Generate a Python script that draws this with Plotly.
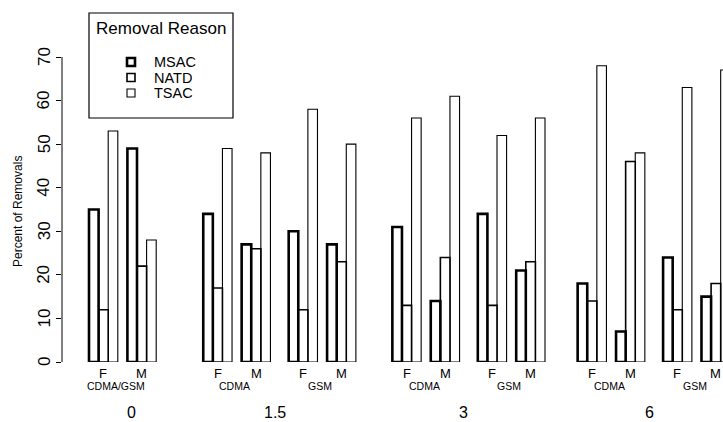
import plotly.graph_objects as go

# ---------------- data ----------------
doses = ["0", "1.5", "3", "6"]
networks = [["CDMA/GSM"], ["CDMA", "GSM"], ["CDMA", "GSM"], ["CDMA", "GSM"]]
sexes = ["F", "M"]
reasons = ["MSAC", "NATD", "TSAC"]

# order: dose -> network -> sex
msac = [35, 49, 34, 27, 30, 27, 31, 14, 34, 21, 18, 7, 24, 15]
natd = [12, 22, 17, 26, 12, 23, 13, 24, 13, 23, 14, 46, 12, 18]
tsac = [53, 28, 49, 48, 58, 50, 56, 61, 52, 56, 68, 48, 63, 67]
yticks = [0, 10, 20, 30, 40, 50, 60, 70]

# ---------------- layout constants ----------------
W, H = 723, 422
ML, MB, MT = 62, 60, 0
PW, PH = W - ML, H - MB - MT
UNIT_PX = 9.6             # pixels per bar width
PAIR_STEP = 4.0           # F -> M centre step
NET_STEP = 4.9            # M -> next network F step
DOSE_STEPS = [7.9, 6.8, 6.4]  # last M -> next dose F step
X0_PX = 89                # left edge of first bar (px)
Y_PX_PER = (362 - 57) / 70.0

def px2x(px):
    return (px - ML) / PW

def py2y(py):
    return (H - MB - py) / PH

# build triplet centres from the structure
centres, sex_lab, net_centres, dose_centres = [], [], [], []
pos = 1.5
for di, d in enumerate(doses):
    dstart = None
    for ni, n in enumerate(networks[di]):
        if ni > 0:
            pos += NET_STEP
        fpos = pos
        for si, s in enumerate(sexes):
            if si > 0:
                pos += PAIR_STEP
            centres.append(pos)
            sex_lab.append(s)
        net_centres.append(((fpos + pos) / 2, n))
        if dstart is None:
            dstart = fpos
    dose_centres.append(((dstart + pos) / 2, d))
    if di < len(DOSE_STEPS):
        pos += DOSE_STEPS[di]

xmin = (ML - X0_PX) / UNIT_PX
xmax = xmin + PW / UNIT_PX
ymax = (H - MB - MT) / Y_PX_PER

FONT = "Liberation Sans, Arial, Helvetica, sans-serif"

fig = go.Figure()
series = [msac, natd, tsac]
lw = [2.6, 1.6, 1.1]
offs = [-1, 0, 1]
for k in [2, 1, 0]:
    fig.add_trace(go.Bar(
        x=[c + offs[k] for c in centres], y=series[k], width=1.0,
        name=reasons[k], marker=dict(color="white", line=dict(color="black", width=lw[k])),
        showlegend=False, hovertemplate="%{y}<extra>" + reasons[k] + "</extra>"))

ann = []
for c, s in zip(centres, sex_lab):
    ann.append(dict(x=min(c, xmax - 0.8), y=py2y(374), xref="x", yref="paper", text=s,
                    showarrow=False, font=dict(size=13, family=FONT, color="black"),
                    yanchor="middle"))
for i, (c, n) in enumerate(net_centres):
    shift = -0.7 if i == 0 else -0.2
    ann.append(dict(x=c + shift, y=py2y(386), xref="x", yref="paper", text=n, showarrow=False,
                    font=dict(size=10.5, family=FONT, color="black"), yanchor="middle"))
for i, (c, d) in enumerate(dose_centres):
    shift = 0.9 if i == 0 else -0.5
    ann.append(dict(x=c + shift, y=py2y(413), xref="x", yref="paper", text=d, showarrow=False,
                    font=dict(size=16, family=FONT, color="black"), yanchor="middle"))
# y tick labels (rotated, R style)
for t in yticks:
    ann.append(dict(x=px2x(44), y=t, xref="paper", yref="y", text=str(t), textangle=-90,
                    showarrow=False, font=dict(size=17, family=FONT, color="black"),
                    xanchor="center", yanchor="middle"))
# y-axis title
ann.append(dict(x=px2x(18), y=py2y(212), xref="paper", yref="paper", text="Percent of Removals",
                textangle=-90, showarrow=False, font=dict(size=12, family=FONT, color="black"),
                xanchor="center", yanchor="middle"))

# legend (drawn)
shapes = [dict(type="line", xref="paper", yref="y", x0=0, x1=0, y0=0, y1=70,
               line=dict(color="black", width=1)),
          dict(type="rect", xref="paper", yref="paper", x0=px2x(89), x1=px2x(233),
               y0=py2y(118), y1=py2y(13), line=dict(color="black", width=1.2), fillcolor="white",
               layer="above")]
ann.append(dict(x=px2x(161), y=py2y(28), xref="paper", yref="paper", text="Removal Reason",
                showarrow=False, font=dict(size=17, family=FONT, color="black"),
                xanchor="center", yanchor="middle"))
for k, r in enumerate(reasons):
    yc = 62 + 15.5 * k
    shapes.append(dict(type="rect", xref="paper", yref="paper", x0=px2x(127), x1=px2x(135),
                       y0=py2y(yc + 4), y1=py2y(yc - 4), line=dict(color="black", width=lw[k]),
                       fillcolor="white", layer="above"))
    ann.append(dict(x=px2x(152), y=py2y(yc), xref="paper", yref="paper", text=r, showarrow=False,
                    height=14, valign="middle",
                    font=dict(size=14.5, family=FONT, color="black"), xanchor="left", yanchor="middle"))

fig.update_layout(
    width=W, height=H, margin=dict(l=ML, r=0, t=MT, b=MB),
    paper_bgcolor="white", plot_bgcolor="white", barmode="overlay",
    font=dict(family=FONT, color="black"),
    xaxis=dict(range=[xmin, xmax], visible=False, fixedrange=True),
    yaxis=dict(range=[0, ymax], tickvals=yticks, ticks="outside", ticklen=5, tickwidth=1,
               tickcolor="black", showticklabels=False, showgrid=False, zeroline=False,
               showline=False, fixedrange=True),
    annotations=ann, shapes=shapes,
)
fig.write_html("out.html", config={"displayModeBar": False},
               post_script="document.body.style.margin='0';")
